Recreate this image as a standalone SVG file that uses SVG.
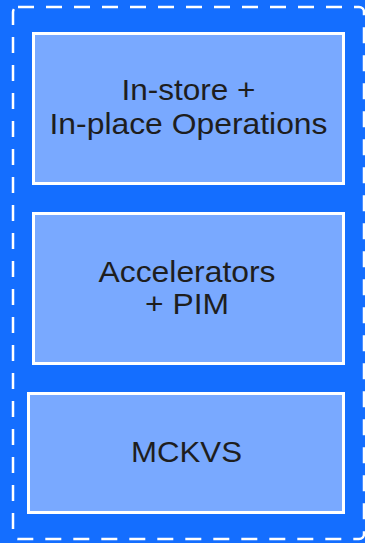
<svg xmlns="http://www.w3.org/2000/svg" width="365" height="543" viewBox="0 0 365 543">
  <style>
    .frame { fill: none; stroke: #ffffff; stroke-width: 2.5; stroke-dasharray: 16 12; }
    .box { fill: #79a9ff; stroke: #ffffff; stroke-width: 3; }
    .label { font-family: "Liberation Sans", Arial, sans-serif; font-size: 30px; fill: #1e1e1e; text-anchor: middle; }
  </style>
  <!-- background -->
  <rect x="0" y="0" width="365" height="543" fill="#146eff"/>
  <!-- dashed enclosure -->
  <rect class="frame" x="13" y="7" width="351" height="532" rx="5" ry="5"/>

  <g id="in-store">
    <rect class="box" x="33.5" y="33.5" width="310" height="150"/>
    <text class="label" x="188.5" y="100" textLength="134" lengthAdjust="spacingAndGlyphs">In-store +</text>
    <text class="label" x="188.5" y="134" textLength="278" lengthAdjust="spacingAndGlyphs">In-place Operations</text>
  </g>

  <g id="accelerators">
    <rect class="box" x="33.5" y="213.5" width="310" height="150"/>
    <text class="label" x="187" y="281.5" textLength="177" lengthAdjust="spacingAndGlyphs">Accelerators</text>
    <text class="label" x="187" y="314" textLength="84" lengthAdjust="spacingAndGlyphs">+ PIM</text>
  </g>

  <g id="mckvs">
    <rect class="box" x="28.5" y="393.5" width="315" height="119"/>
    <text class="label" x="186.5" y="461.5" textLength="111" lengthAdjust="spacingAndGlyphs">MCKVS</text>
  </g>

  <g id="connectors"/>
</svg>
